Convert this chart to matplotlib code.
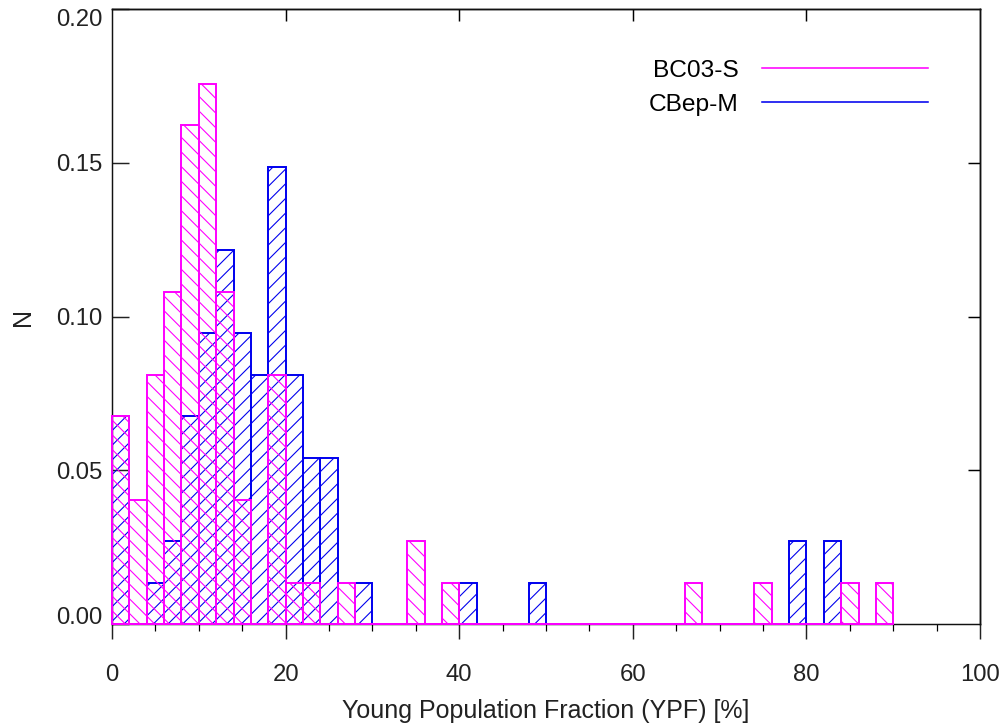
import numpy as np
import matplotlib
matplotlib.use("Agg")
import matplotlib.pyplot as plt
from matplotlib.lines import Line2D

plt.rcParams['font.family'] = ['Liberation Sans', 'DejaVu Sans']
plt.rcParams['hatch.linewidth'] = 0.9

# histogram data, bin width 2 (%), left edges start at 0
bin_width = 2
# BC03-S, bins 0-2 ... 88-90
bc03_s = [0.0676, 0.0405, 0.0811, 0.1081, 0.1622, 0.1757, 0.1081, 0.0405, 0.0, 0.0811,
          0.0135, 0.0135, 0.0, 0.0135, 0.0, 0.0, 0.0, 0.0270, 0.0, 0.0135,
          0.0, 0.0, 0.0, 0.0, 0.0, 0.0, 0.0, 0.0, 0.0, 0.0,
          0.0, 0.0, 0.0, 0.0135, 0.0, 0.0, 0.0, 0.0135, 0.0, 0.0,
          0.0, 0.0, 0.0135, 0.0, 0.0135]
# CBep-M, bins 0-2 ... 82-84
cbep_m = [0.0676, 0.0, 0.0135, 0.0270, 0.0676, 0.0946, 0.1216, 0.0946, 0.0811, 0.1486,
          0.0811, 0.0541, 0.0541, 0.0, 0.0135, 0.0, 0.0, 0.0, 0.0, 0.0,
          0.0135, 0.0, 0.0, 0.0, 0.0135, 0.0, 0.0, 0.0, 0.0, 0.0,
          0.0, 0.0, 0.0, 0.0, 0.0, 0.0, 0.0, 0.0, 0.0, 0.0270,
          0.0, 0.0270]
labels = ["BC03-S", "CBep-M"]
colours = ["#ff00ff", "#0000ee"]

x_bc03 = np.arange(len(bc03_s)) * bin_width
x_cbep = np.arange(len(cbep_m)) * bin_width

dpi = 88
fig = plt.figure(figsize=(1003 / dpi, 724 / dpi), dpi=dpi)
ax = fig.add_axes([0.1117, 0.138, 0.8654, 0.8496])

# blue first, magenta on top
ax.bar(x_cbep, cbep_m, width=bin_width, align='edge', fill=False,
       edgecolor=colours[1], hatch='//', linewidth=1.6, zorder=3, clip_on=False)
ax.bar(x_bc03, bc03_s, width=bin_width, align='edge', fill=False,
       edgecolor=colours[0], hatch='\\\\', linewidth=1.6, zorder=3, clip_on=False)

ax.set_xlim(0, 100)
ax.set_ylim(0, 0.20)

for s in ax.spines.values():
    s.set_linewidth(1.2)
    s.set_color('#111111')

# bottom: outward ticks, left: inward ticks
ax.set_xticks(np.arange(0, 101, 20))
ax.set_xticks(np.arange(0, 101, 5), minor=True)
ax.set_yticks(np.arange(0, 0.201, 0.05))
ax.set_yticklabels(['0.00', '0.05', '0.10', '0.15', '0.20'])
ax.tick_params(axis='x', which='major', direction='out', length=12, width=1.2,
               pad=21, labelsize=19.5, colors='#222222')
ax.tick_params(axis='x', which='minor', direction='out', length=5.5, width=1.0)
ax.tick_params(axis='y', which='major', direction='in', length=14, width=1.2,
               pad=8, labelsize=19.5, colors='#222222')
ax.tick_params(axis='y', which='minor', left=False)

ylabs = ax.get_yticklabels()
ylabs[0].set_verticalalignment('baseline')
ylabs[-1].set_verticalalignment('top')

# top and right: short inward ticks, no labels
top = ax.secondary_xaxis('top')
top.set_xticks([20, 40, 60, 80])
top.tick_params(direction='in', length=10, width=1.2, labeltop=False)
top.spines['top'].set_linewidth(1.2)
right = ax.secondary_yaxis('right')
right.set_yticks([0.05, 0.10, 0.15])
right.tick_params(direction='in', length=10, width=1.2, labelright=False)
right.spines['right'].set_linewidth(1.2)

ax.set_xlabel('Young Population Fraction (YPF) [%]', fontsize=20.5, color='#222222')
ax.set_ylabel('N', fontsize=20.5, color='#222222')
ax.xaxis.set_label_coords(0.5, -0.122)
ax.yaxis.set_label_coords(-0.089, 0.5)

handles = [Line2D([], [], color=c, linewidth=1.3) for c in colours]
ax.legend(handles, labels, loc='upper right', bbox_to_anchor=(0.94, 0.918),
          frameon=False, markerfirst=False, fontsize=20, handlelength=6.8,
          handletextpad=0.95, labelspacing=0.5, borderpad=0, borderaxespad=0)

fig.savefig('out.png', dpi=dpi)
